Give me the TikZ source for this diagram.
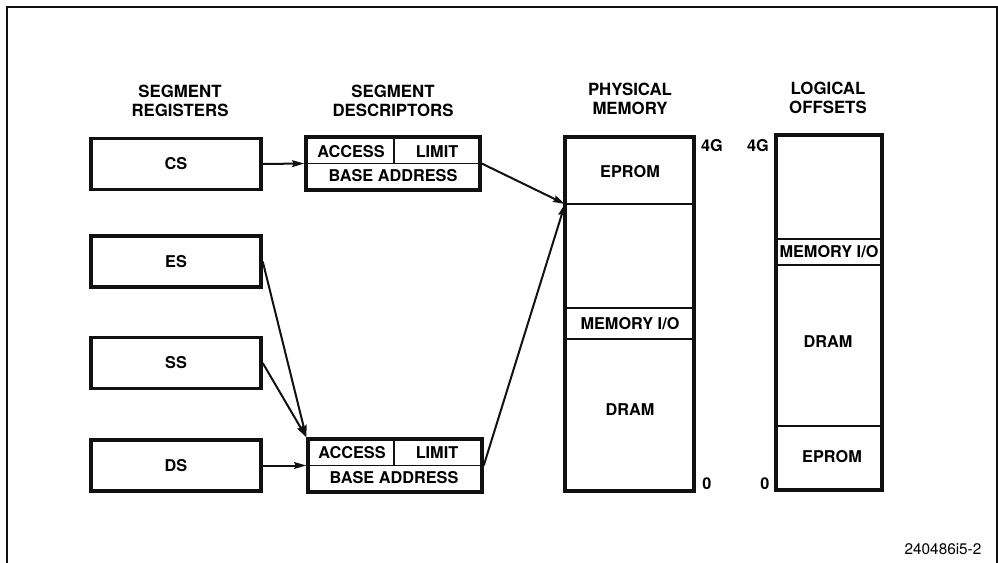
\documentclass[tikz,border=0pt]{standalone}
\usepackage{fontspec}
\setmainfont{TeX Gyre Heros}
\usepackage{xcolor}
\definecolor{cInk}{HTML}{111111}
\usepackage{tikz}
\usetikzlibrary{positioning,arrows.meta,calc}
\tikzset{
  reg-box/.style={draw=cInk,line width=2.6pt,minimum width=127.5pt,
    minimum height=38.25pt,font=\fontsize{12.2}{13}\selectfont\bfseries},
  desc-box/.style={draw=cInk,line width=2.6pt,minimum width=130.5pt,
    minimum height=39.75pt,inner sep=0pt},
  mem-line/.style={draw=cInk,line width=1.4pt},
  mem-frame/.style={draw=cInk,line width=2.6pt},
  lbl-cell/.style={font=\fontsize{12.2}{13}\selectfont\bfseries,inner sep=0pt},
  lbl-head/.style={align=center,font=\fontsize{12.6}{14.25}\selectfont\bfseries},
  arrow/.style={-{Stealth[length=9pt,width=5pt,inset=1pt]},line width=1.5pt,draw=cInk},
}

\begin{document}
\begin{tikzpicture}[x=0.75pt,y=-0.75pt]
  \useasboundingbox (0,0) rectangle (998,563);
  % frame
  \draw[cInk,line width=1.8pt] (7,563) -- (7,7) -- (997,7) -- (997,563);
  % headings
  \node[lbl-head] (h-reg)  at (180,101) {SEGMENT\\REGISTERS};
  \node[lbl-head] (h-desc) at (393,101) {SEGMENT\\DESCRIPTORS};
  \node[lbl-head] (h-phys) at (630,99)  {PHYSICAL\\MEMORY};
  \node[lbl-head] (h-log)  at (828,98)  {LOGICAL\\OFFSETS};
  % segment registers
  \node[reg-box] (cs) at (176,164)   {CS};
  \node[reg-box] (es) at (176,261.5) {ES};
  \node[reg-box] (ss) at (176,363)   {SS};
  \node[reg-box] (ds) at (176,465.5) {DS};
  % descriptors
  \node[desc-box] (d1) at (393,163.5) {};
  \draw[mem-line] (d1.west) -- (d1.east);
  \draw[mem-line] ($(d1.north)+(1,0)$) -- ($(d1.center)+(1,0)$);
  \node[lbl-cell] (d1-acc)  at (351,152) {ACCESS};
  \node[lbl-cell] (d1-lim)  at (437,152) {LIMIT};
  \node[lbl-cell] (d1-base) at (393,176) {BASE ADDRESS};
  \node[desc-box] (d2) at (395,465.5) {};
  \draw[mem-line] (d2.west) -- (d2.east);
  \draw[mem-line] ($(d2.north)+(-1,0)$) -- ($(d2.center)+(-1,0)$);
  \node[lbl-cell] (d2-acc)  at (352,453) {ACCESS};
  \node[lbl-cell] (d2-lim)  at (437,453) {LIMIT};
  \node[lbl-cell] (d2-base) at (394,478) {BASE ADDRESS};
  % physical memory
  \draw[mem-line] (565,204) -- (694,204);
  \draw[mem-line] (565,308) -- (694,308);
  \draw[mem-line] (565,339) -- (694,339);
  \draw[mem-frame] (565,137) rectangle (694,491);
  \node[lbl-cell] (pm-eprom) at (630,172) {EPROM};
  \node[lbl-cell] (pm-mio)   at (630,324) {MEMORY I/O};
  \node[lbl-cell] (pm-dram)  at (630,410) {DRAM};
  \node[lbl-cell] (pm-top)   at (712,146) {4G};
  \node[lbl-cell] (pm-bot)   at (707,484) {0};
  \coordinate (pm-hit) at (565,204);
  % logical offsets
  \draw[mem-line] (776,239) -- (882,239);
  \draw[mem-line] (776,265) -- (882,265);
  \draw[mem-line] (776,426) -- (882,426);
  \draw[mem-frame] (776,135) rectangle (882,490);
  \node[lbl-cell] (lo-mio)   at (829,252) {MEMORY I/O};
  \node[lbl-cell] (lo-dram)  at (828,342) {DRAM};
  \node[lbl-cell] (lo-eprom) at (832,457) {EPROM};
  \node[lbl-cell] (lo-top)   at (758,146) {4G};
  \node[lbl-cell] (lo-bot)   at (765,484) {0};
  % connectors
  \draw[arrow] (cs.east) -- (d1.west);
  \draw[arrow] (d1.east) -- (pm-hit);
  \draw[arrow] (es.east) -- (d2.north west);
  \draw[arrow] (ss.east) -- (d2.north west);
  \draw[arrow] (ds.east) -- (d2.west);
  \draw[arrow] (d2.east) -- (pm-hit);
  % figure number
  \node[font=\fontsize{11.5}{13}\selectfont,inner sep=0pt] (fig-no) at (943,549) {240486i5-2};
\end{tikzpicture}
\end{document}
